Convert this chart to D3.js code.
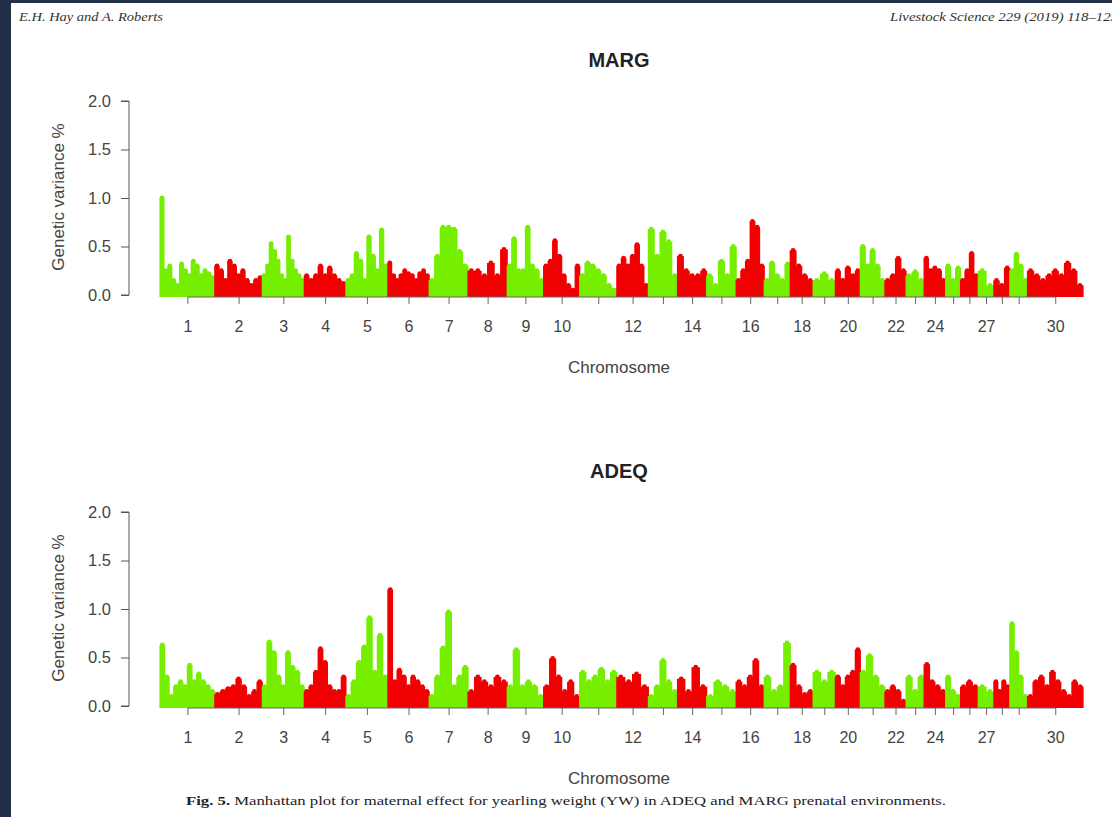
<!DOCTYPE html>
<html>
<head>
<meta charset="utf-8">
<script src="https://cdn.jsdelivr.net/npm/d3@7"></script>
<style>
  body { margin: 0; background: #222f49; }
  svg { display: block; }
</style>
</head>
<body>
<svg id="chart" width="1112" height="817"></svg>
<script>
// chromosome lengths (Mb), bovine autosomes 1-29 + X as 30
const chromLen = [158,137,121,120,121,119,112,113,105,104,107,91,84,84,85,81,75,66,64,72,71,61,52,62,43,51,45,46,51,160];
const tickLabels = ["1","2","3","4","5","6","7","8","9","10","","12","","14","","16","","18","","20","","22","","24","","","27","","","30"];
const yTicks = [0, 0.5, 1, 1.5, 2];

// genetic variance % read along each chromosome, MARG
const marg = [
  [1.0,0.25,0.3,0.15,0.1,0.32,0.25,0.2,0.35,0.3,0.2,0.25,0.22,0.18],
  [0.3,0.25,0.15,0.35,0.3,0.2,0.25,0.15,0.1,0.15,0.18],
  [0.2,0.3,0.53,0.45,0.35,0.2,0.15,0.6,0.35,0.25,0.2,0.15],
  [0.2,0.15,0.2,0.3,0.2,0.28,0.2,0.15,0.12],
  [0.15,0.2,0.43,0.35,0.15,0.6,0.4,0.25,0.67,0.3],
  [0.33,0.2,0.15,0.2,0.25,0.22,0.2,0.15,0.22,0.25,0.2],
  [0.15,0.4,0.7,0.7,0.68,0.45,0.3],
  [0.25,0.25,0.2,0.33,0.2,0.47],
  [0.3,0.58,0.25,0.25,0.7,0.3,0.25,0.15],
  [0.3,0.35,0.56,0.4,0.2,0.1,0.05,0.3],
  [0.2,0.33,0.3,0.25,0.2,0.1,0.05],
  [0.3,0.38,0.3,0.4,0.52,0.3,0.1],
  [0.68,0.4,0.65,0.55,0.2],
  [0.4,0.25,0.2,0.2,0.25],
  [0.2,0.1,0.35,0.2,0.5],
  [0.15,0.25,0.35,0.76,0.7,0.3],
  [0.15,0.33,0.2,0.15,0.32],
  [0.46,0.3,0.2,0.15],
  [0.15,0.22,0.15],
  [0.25,0.15,0.28,0.2,0.25],
  [0.5,0.3,0.46,0.3,0.15],
  [0.15,0.2,0.38,0.25],
  [0.2,0.24,0.15],
  [0.38,0.25,0.28,0.25,0.15],
  [0.3,0.15,0.28],
  [0.15,0.25,0.43,0.2],
  [0.25,0.1],
  [0.15,0.1,0.28],
  [0.25,0.42,0.3,0.15],
  [0.25,0.2,0.15,0.2,0.25,0.2,0.33,0.25,0.1]
];

// genetic variance % read along each chromosome, ADEQ
const adeq = [
  [0.63,0.3,0.1,0.2,0.25,0.2,0.42,0.25,0.33,0.25,0.2,0.15],
  [0.12,0.15,0.18,0.2,0.28,0.2,0.1,0.15,0.25],
  [0.2,0.66,0.55,0.3,0.2,0.55,0.4,0.35,0.2],
  [0.15,0.2,0.35,0.59,0.45,0.2,0.15,0.15,0.3],
  [0.1,0.25,0.45,0.61,0.91,0.35,0.73,0.3],
  [1.2,0.25,0.37,0.3,0.2,0.3,0.25,0.2,0.15],
  [0.1,0.3,0.6,0.97,0.2,0.3,0.4],
  [0.15,0.3,0.25,0.2,0.3,0.25],
  [0.2,0.58,0.2,0.25,0.2,0.1],
  [0.2,0.49,0.3,0.15,0.25,0.1],
  [0.35,0.25,0.3,0.38,0.25,0.35],
  [0.3,0.25,0.33,0.2],
  [0.1,0.2,0.47,0.25,0.15],
  [0.28,0.15,0.4,0.2],
  [0.1,0.25,0.2,0.15],
  [0.25,0.2,0.3,0.47,0.2],
  [0.3,0.15,0.2,0.65],
  [0.42,0.2,0.12,0.15],
  [0.35,0.25,0.35],
  [0.3,0.2,0.3,0.35,0.58],
  [0.35,0.52,0.3,0.2],
  [0.15,0.2,0.15,0.05],
  [0.3,0.15,0.3],
  [0.43,0.25,0.2,0.15],
  [0.3,0.15,0.1],
  [0.2,0.25,0.2],
  [0.2,0.15],
  [0.25,0.15,0.25,0.2],
  [0.85,0.55,0.3,0.1],
  [0.1,0.25,0.3,0.2,0.35,0.25,0.15,0.1,0.25,0.2]
];

const colors = ["#76ee00", "#f00000"];
const svg = d3.select("#chart");

// page
svg.append("rect").attr("x", 11).attr("y", 3).attr("width", 1101).attr("height", 814).attr("fill", "#fff");
svg.append("text").attr("x", 19).attr("y", 21)
  .attr("font-family", "Liberation Serif").attr("font-style", "italic")
  .attr("font-size", 13).attr("fill", "#333")
  .attr("textLength", 144).attr("lengthAdjust", "spacingAndGlyphs")
  .text("E.H. Hay and A. Roberts");
svg.append("text").attr("x", 890).attr("y", 21)
  .attr("font-family", "Liberation Serif").attr("font-style", "italic")
  .attr("font-size", 13).attr("fill", "#333")
  .attr("textLength", 228).attr("lengthAdjust", "spacingAndGlyphs")
  .text("Livestock Science 229 (2019) 118–125");

const starts = [];
let acc = 0;
chromLen.forEach(l => { starts.push(acc); acc += l; });
const x = d3.scaleLinear().domain([0, acc]).range([160, 1083]);

function drawPanel(values, title, top) {
  const y = d3.scaleLinear().domain([0, 2]).range([top + 194, top]);
  const g = svg.append("g");

  g.append("text").attr("x", 619).attr("y", top - 34)
    .attr("text-anchor", "middle").attr("font-family", "Liberation Sans")
    .attr("font-weight", "bold").attr("font-size", 20).attr("fill", "#222")
    .text(title);

  // marks
  values.forEach((vals, c) => {
    const step = chromLen[c] / vals.length;
    const w = x(step) - x(0);
    const cg = g.append("g").attr("fill", colors[c % 2]);
    cg.selectAll("rect").data(vals).join("rect")
      .attr("x", (d, i) => x(starts[c] + i * step) - 0.6)
      .attr("width", w + 1.2)
      .attr("y", d => y(d))
      .attr("height", d => y(0) - y(d) + 2);
    cg.selectAll("circle").data(vals).join("circle")
      .attr("cx", (d, i) => x(starts[c] + (i + 0.5) * step))
      .attr("cy", d => y(d))
      .attr("r", Math.min(2.4, w / 2 + 0.8));
  });

  // y axis
  const ya = g.append("g").attr("transform", "translate(129,0)")
    .call(d3.axisLeft(y).tickValues(yTicks).tickFormat(d3.format(".1f")).tickSize(8).tickPadding(10));
  ya.select(".domain").attr("stroke", "#555").attr("d", `M-8,${y(2)}H0V${y(0)}H-8`);
  ya.selectAll(".tick line").attr("stroke", "#555");
  ya.selectAll("text").attr("font-family", "Liberation Sans").attr("font-size", 16.5).attr("fill", "#444");

  g.append("text")
    .attr("transform", `translate(64,${top + 96}) rotate(-90)`)
    .attr("text-anchor", "middle").attr("font-family", "Liberation Sans")
    .attr("font-size", 17).attr("fill", "#444").text("Genetic variance %");

  // x axis
  const centers = chromLen.map((l, i) => starts[i] + l / 2);
  const xa = g.append("g").attr("transform", `translate(0,${top + 196})`)
    .call(d3.axisBottom(x).tickValues(centers).tickFormat((d, i) => tickLabels[i]).tickSize(7).tickPadding(17));
  xa.select(".domain").attr("stroke", "#666").attr("d", `M${x(centers[0])},0H${x(centers[29])}`);
  xa.selectAll(".tick line").attr("stroke", "#666");
  xa.selectAll("text").attr("font-family", "Liberation Sans").attr("font-size", 16).attr("fill", "#444");

  g.append("text").attr("x", 619).attr("y", top + 272)
    .attr("text-anchor", "middle").attr("font-family", "Liberation Sans")
    .attr("font-size", 17).attr("fill", "#444").text("Chromosome");
}

drawPanel(marg, "MARG", 101);
drawPanel(adeq, "ADEQ", 512);

const cap = svg.append("text").attr("x", 186).attr("y", 805)
  .attr("font-family", "Liberation Serif").attr("font-size", 13).attr("fill", "#222")
  .attr("textLength", 760).attr("lengthAdjust", "spacingAndGlyphs");
cap.append("tspan").attr("font-weight", "bold").text("Fig. 5.");
cap.append("tspan").text(" Manhattan plot for maternal effect for yearling weight (YW) in ADEQ and MARG prenatal environments.");
</script>
</body>
</html>
